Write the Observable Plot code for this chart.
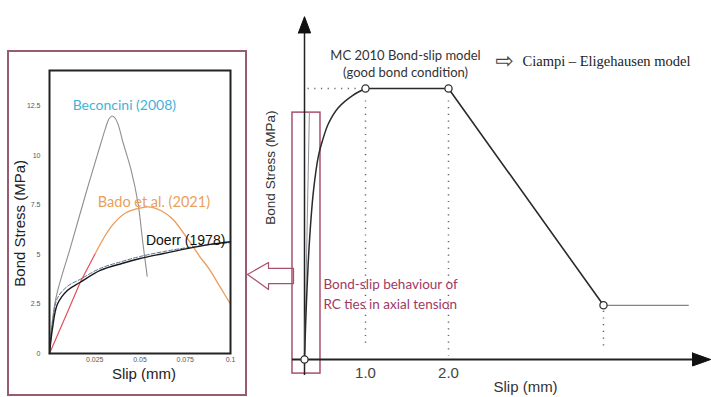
<!DOCTYPE html>
<html><head><meta charset="utf-8">
<script src="https://cdn.jsdelivr.net/npm/d3@7"></script>
<script src="https://cdn.jsdelivr.net/npm/@observablehq/plot@0.6"></script>
<style>
html,body{margin:0;padding:0;background:#fff;}
#wrap{position:relative;width:711px;height:397px;overflow:hidden;background:#fff;}
#left{position:absolute;left:7px;top:50px;border:2px solid #9a5a72;width:236px;height:342px;background:#fff;}
#right{position:absolute;left:240px;top:0;width:471px;height:397px;}
svg{display:block;}
</style></head>
<body><div id="wrap"><div id="left"></div><div id="right"></div></div>
<script>
// ---------- Left inset: bond stress (MPa) vs slip (mm) ----------
const beconciniSlip   = [0, 0.0033, 0.0117, 0.0211, 0.0283, 0.031, 0.0328, 0.0345, 0.0362, 0.038, 0.0405, 0.045, 0.0489, 0.0517, 0.054];
const beconciniStress = [0, 2.7, 5.4, 8.4, 10.6, 11.4, 11.85, 12.0, 11.9, 11.55, 10.7, 9.3, 7.6, 5.5, 3.9];
const badoSlip   = [0, 0.009, 0.017, 0.025, 0.034, 0.042, 0.05, 0.056, 0.062, 0.068, 0.077, 0.083, 0.088, 0.094, 0.1];
const badoStress = [0, 1.9, 3.6, 5.0, 6.4, 7.1, 7.35, 7.4, 7.2, 6.8, 5.7, 4.9, 4.3, 3.4, 2.5];
const doerrSlip      = [0, 0.0017, 0.0044, 0.01, 0.017, 0.028, 0.04, 0.05, 0.063, 0.076, 0.088, 0.1];
const doerrStress    = [0, 1.3, 2.5, 3.2, 3.6, 4.2, 4.55, 4.8, 5.05, 5.3, 5.5, 5.65];
const doerrFitStress = [0, 1.6, 2.8, 3.4, 3.75, 4.3, 4.65, 4.9, 5.15, 5.35, 5.5, 5.6];
const leftXTicks = [0.025, 0.05, 0.075, 0.1];
const leftYTicks = [0, 2.5, 5, 7.5, 10, 12.5];
const leftLabels = ["Beconcini (2008)", "Bado et al. (2021)", "Doerr (1978)"];
const leftLabelSlip = [0.0128, 0.0267, 0.0533];
const leftLabelStress = [12.55, 7.64, 5.72];

// ---------- Right: MC 2010 bond-slip model (schematic, tau / tau_max) ----------
const mcCurveSlip   = [0, 0.033, 0.082, 0.148, 0.23, 0.295, 0.393, 0.557, 0.787, 1];
const mcCurveStress = [0, 0.218, 0.439, 0.624, 0.753, 0.808, 0.871, 0.930, 0.974, 1];
const mcLinearSlip   = [1, 2, 4];
const mcLinearStress = [1, 1, 0.2];
const residualSlip   = [4, 5.1];
const residualStress = [0.2, 0.2];
const keySlip   = [0, 1, 2, 4];
const keyStress = [0, 1, 1, 0.2];
const rightXTicks = [1, 2];
// highlighted tiny-slip region (links to inset)
const regionSlip = [-0.197, 0.262];
const regionStress = [-0.052, 0.911];
const insetTraceSlip = [0, 0.04, 0.08];
const insetTraceStress = [0, 0.45, 0.911];

const zip = (xs, ys) => xs.map((x, i) => ({x, y: ys[i]}));

// ---------------- left plot ----------------
const leftPlot = Plot.plot({
  width: 236, height: 342,
  marginLeft: 40, marginRight: 15, marginTop: 18, marginBottom: 41,
  style: {fontFamily: "'Liberation Sans', Arial, sans-serif", fontSize: "7px", color: "#555", background: "white", overflow: "visible"},
  x: {domain: [0, 0.1], ticks: leftXTicks, tickFormat: d => String(d), tickSize: 0, tickPadding: 4, label: null},
  y: {domain: [0, 14.3], ticks: leftYTicks, tickFormat: d => String(d), tickSize: 0, tickPadding: 9, label: null},
  marks: [
    Plot.line(zip(beconciniSlip, beconciniStress), {x: "x", y: "y", stroke: "#8f8f8f", strokeWidth: 1.1, curve: "catmull-rom"}),
    Plot.line(zip(badoSlip, badoStress).filter(d => d.x >= 0.025), {x: "x", y: "y", stroke: "#eb9c58", strokeWidth: 1.3, curve: "catmull-rom"}),
    Plot.line(zip(badoSlip, badoStress).filter(d => d.x <= 0.025), {x: "x", y: "y", stroke: "#e0505e", strokeWidth: 1.2}),
    Plot.line(zip(doerrSlip, doerrFitStress), {x: "x", y: "y", stroke: "#5a6f9a", strokeWidth: 1, strokeDasharray: "4,2", curve: "catmull-rom"}),
    Plot.line(zip(doerrSlip, doerrStress), {x: "x", y: "y", stroke: "#1a1a1a", strokeWidth: 1.4, curve: "catmull-rom"}),
    Plot.frame({stroke: "#222", strokeWidth: 2}),
    Plot.text([0], {x: leftLabelSlip[0], y: leftLabelStress[0], text: () => leftLabels[0], textAnchor: "start", fill: "#3fb3d9", fontSize: 14, fontFamily: "Lato, sans-serif"}),
    Plot.text([0], {x: leftLabelSlip[1], y: leftLabelStress[1], text: () => leftLabels[1], textAnchor: "start", fill: "#e9a15a", fontSize: 14.5, fontFamily: "Lato, sans-serif"}),
    Plot.text([0], {x: leftLabelSlip[2], y: leftLabelStress[2], text: () => leftLabels[2], textAnchor: "start", fill: "#111", fontSize: 14, fontFamily: "'Liberation Sans', Arial, sans-serif"}),
    Plot.text(["Bond Stress (MPa)"], {x: -0.0161, y: 6.58, text: d => d, rotate: -90, fill: "#222", fontSize: 15, fontFamily: "'Liberation Sans', Arial, sans-serif"}),
    Plot.text(["Slip (mm)"], {x: 0.0522, y: -1.05, text: d => d, fill: "#222", fontSize: 15, fontFamily: "'Liberation Sans', Arial, sans-serif"})
  ]
});
document.getElementById("left").appendChild(leftPlot);

// ---------------- right plot ----------------
const pink = "#a8506f";
const arrowShape = [
  {x: -0.934, y: 0.314}, {x: -0.590, y: 0.358}, {x: -0.590, y: 0.336}, {x: -0.180, y: 0.336},
  {x: -0.180, y: 0.280}, {x: -0.590, y: 0.280}, {x: -0.590, y: 0.258}, {x: -0.934, y: 0.314}
];
const xHead = [{x: 5.154, y: 0.024}, {x: 5.39, y: 0}, {x: 5.154, y: -0.024}, {x: 5.154, y: 0.024}];
const yHead = [{x: -0.1, y: 1.205}, {x: 0, y: 1.265}, {x: 0.1, y: 1.205}, {x: -0.1, y: 1.205}];
const dotted = [
  {x1: 0.05, y1: 1, x2: 0.93, y2: 1},
  {x1: 1, y1: 0.956, x2: 1, y2: 0.044},
  {x1: 2, y1: 0.956, x2: 2, y2: 0.015},
  {x1: 4, y1: 0.18, x2: 4, y2: 0.033}
];
const sans = "'Liberation Sans', Arial, sans-serif";
const rightPlot = Plot.plot({
  width: 471, height: 397,
  marginLeft: 0, marginRight: 0, marginTop: 15, marginBottom: 38,
  style: {fontFamily: sans, fontSize: "15px", color: "#444", background: "transparent", overflow: "visible"},
  x: {type: "linear", domain: [0, 1, 2, 4, 5.4], range: [64, 125, 208, 363, 471], ticks: rightXTicks, tickFormat: d => d.toFixed(1), tickSize: 0, tickPadding: 8, label: null},
  y: {domain: [0, 1], range: [359, 88], axis: null},
  marks: [
    Plot.line(arrowShape, {x: "x", y: "y", stroke: pink, strokeWidth: 1.2, fill: "white"}),
    Plot.rect([0], {x1: regionSlip[0], x2: regionSlip[1], y1: regionStress[0], y2: regionStress[1], stroke: pink, strokeWidth: 1.5, fill: "none"}),
    Plot.link(dotted, {x1: "x1", y1: "y1", x2: "x2", y2: "y2", stroke: "#666", strokeWidth: 1.5, strokeDasharray: "1.2,5.5"}),
    Plot.ruleX([0], {y1: -0.059, y2: 1.21, stroke: "#222", strokeWidth: 1.5}),
    Plot.ruleY([0], {x1: regionSlip[0], x2: 5.16, stroke: "#222", strokeWidth: 2}),
    Plot.line(xHead, {x: "x", y: "y", fill: "#111", stroke: "#111", strokeWidth: 1}),
    Plot.line(yHead, {x: "x", y: "y", fill: "#111", stroke: "#111", strokeWidth: 1}),
    Plot.line(zip(insetTraceSlip, insetTraceStress), {x: "x", y: "y", stroke: "#8a8f9a", strokeWidth: 1}),
    Plot.line(zip(mcCurveSlip, mcCurveStress), {x: "x", y: "y", stroke: "#2a2a2a", strokeWidth: 1.5, curve: "catmull-rom"}),
    Plot.line(zip(mcLinearSlip, mcLinearStress), {x: "x", y: "y", stroke: "#2a2a2a", strokeWidth: 1.6}),
    Plot.line(zip(residualSlip, residualStress), {x: "x", y: "y", stroke: "#666", strokeWidth: 1}),
    Plot.dot(zip(keySlip, keyStress), {x: "x", y: "y", r: 3.6, stroke: "#333", strokeWidth: 1.3, fill: "white"}),
    Plot.text(["MC 2010 Bond-slip model"], {x: 1.482, y: 1.122, text: d => d, fill: "#333", fontSize: 13, fontFamily: "Lato, sans-serif"}),
    Plot.text(["(good bond condition)"], {x: 1.482, y: 1.059, text: d => d, fill: "#333", fontSize: 13, fontFamily: "Lato, sans-serif"}),
    Plot.text(["\u21E8"], {x: 2.723, y: 1.1, text: d => d, fill: "#444", fontSize: 22, fontFamily: "'DejaVu Sans', sans-serif"}),
    Plot.text(["Ciampi \u2013 Eligehausen model"], {x: 2.955, y: 1.1, text: d => d, textAnchor: "start", fill: "#222", fontSize: 14.5, fontFamily: "'Liberation Serif', 'Times New Roman', serif"}),
    Plot.text(["Bond-slip behaviour of"], {x: 0.311, y: 0.277, text: d => d, textAnchor: "start", fill: "#9e3a64", fontSize: 13.5, fontFamily: "Lato, sans-serif"}),
    Plot.text(["RC ties in axial tension"], {x: 0.311, y: 0.203, text: d => d, textAnchor: "start", fill: "#9e3a64", fontSize: 13.5, fontFamily: "Lato, sans-serif"}),
    Plot.text(["Slip (mm)"], {x: 2.994, y: -0.103, text: d => d, fill: "#333", fontSize: 15, fontFamily: sans}),
    Plot.text(["Bond Stress (MPa)"], {x: -0.557, y: 0.708, text: d => d, rotate: -90, fill: "#333", fontSize: 13.5, fontFamily: sans})
  ]
});
document.getElementById("right").appendChild(rightPlot);
</script>
</body></html>
